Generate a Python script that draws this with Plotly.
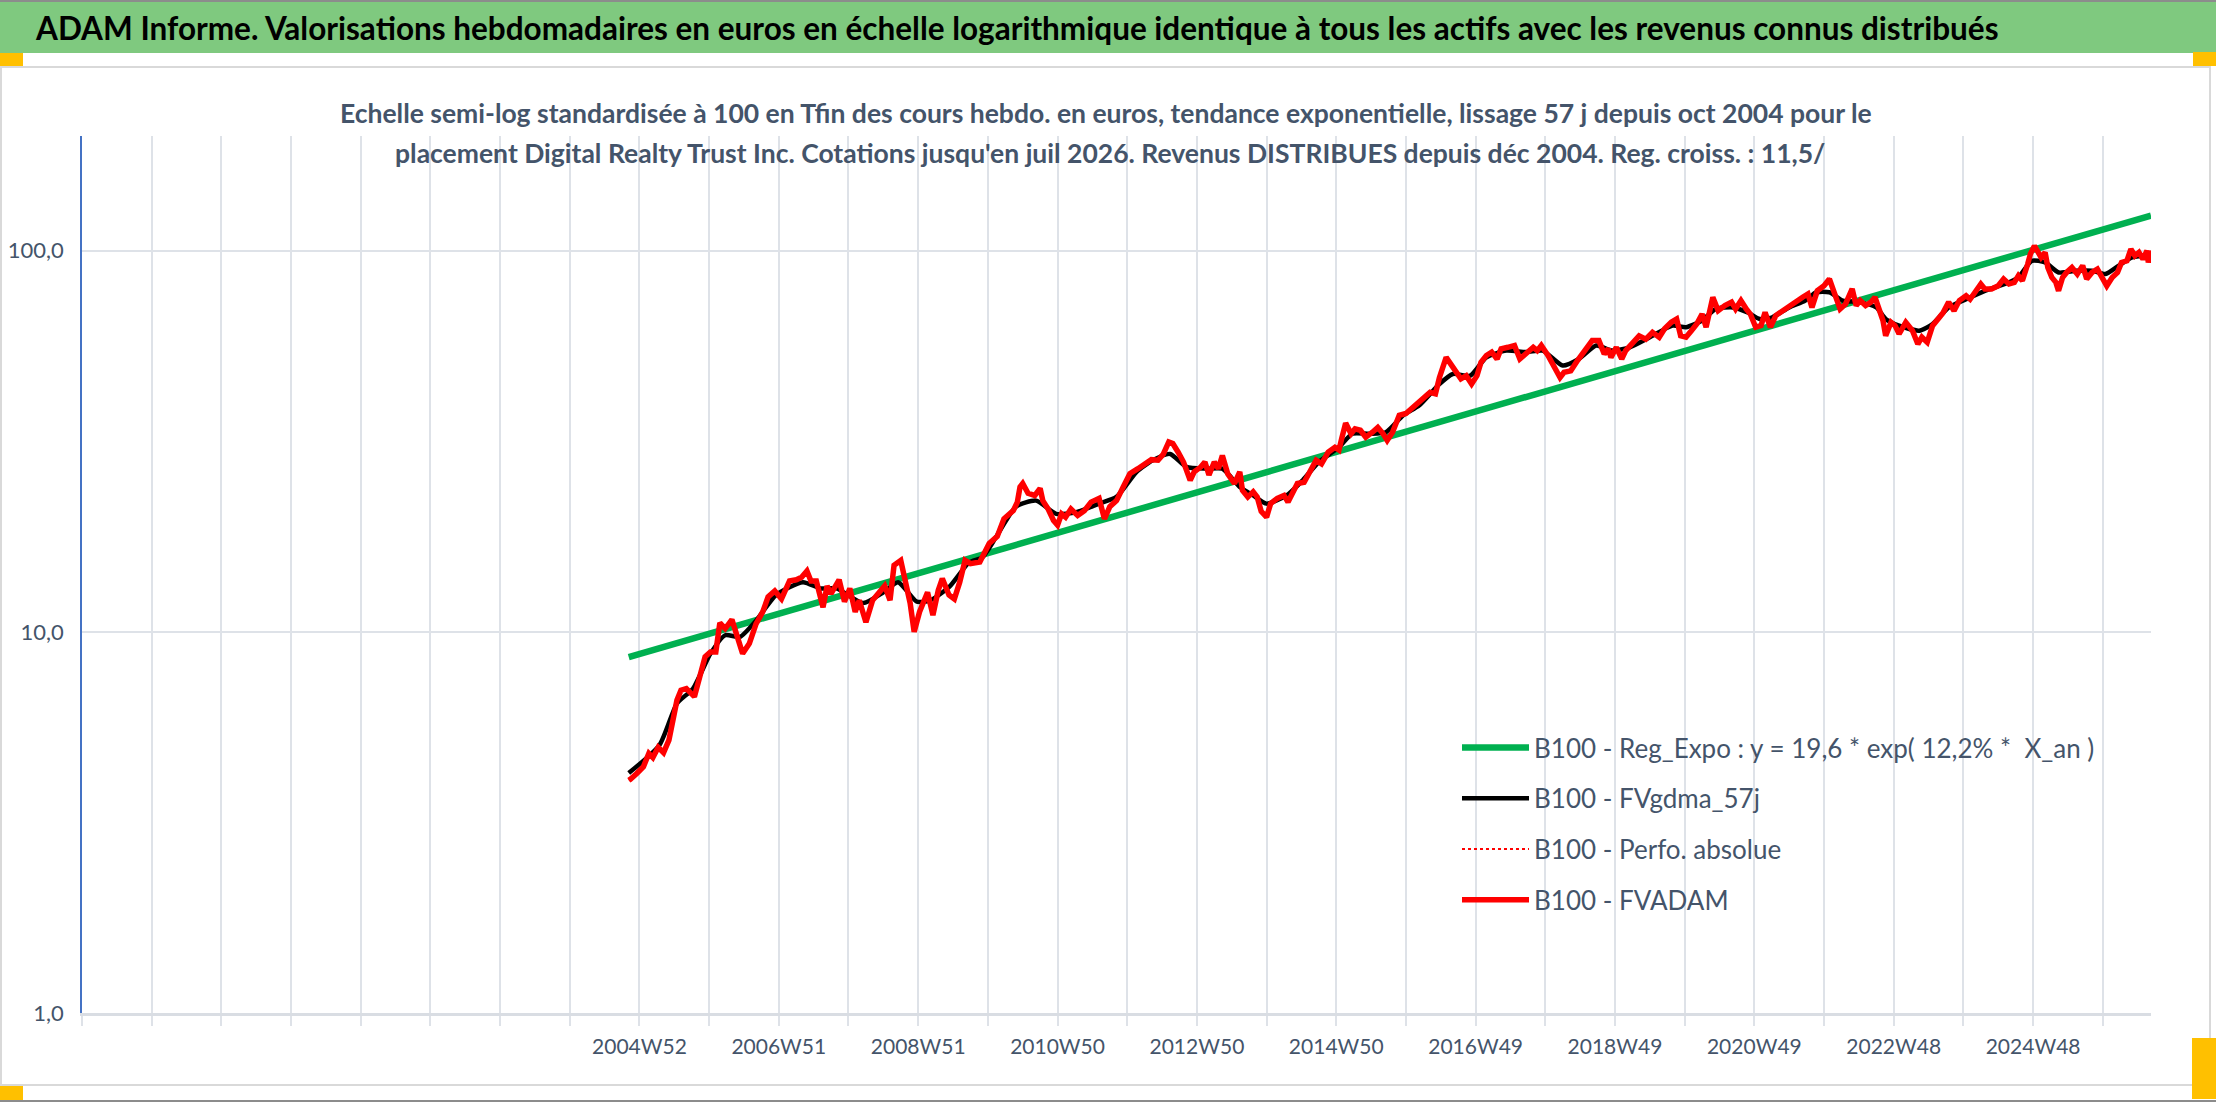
import math
import plotly.graph_objects as go

# ---------------- data ----------------
# x = week index, 0 = 2004W52 ; one category per week
fvadam_weeks = [-8, -7, -2, 3, 7, 10, 14, 18, 22, 25, 28, 31, 35, 41, 45, 49, 53, 57, 60, 64, 69, 74, 77, 82, 87,
                92, 96, 101, 106, 112, 117, 121, 125, 128, 132, 137, 140, 143, 149, 153, 157, 161, 164, 169, 174,
                179, 183, 187, 190, 195, 199, 202, 205, 209, 215, 219, 223, 226, 231, 235, 239, 243, 247, 254, 261,
                267, 272, 279, 282,
                284, 286, 290, 295, 299, 301, 305, 309, 312, 315, 318, 322, 327, 332, 337, 343, 347, 351, 356, 361,
                366, 372, 377, 382, 387, 391, 395, 398, 402, 406, 411, 414, 419, 422, 425, 429, 432, 435, 439, 444,
                448, 450, 454, 458, 461, 464, 468, 471, 476, 481, 484, 487, 491, 496, 501, 505, 509, 514, 519, 522,
                524, 527, 531, 534, 538, 542, 547, 551, 555, 558, 562, 567, 572, 576, 581,
                586, 590, 594, 597, 602, 606, 610, 613, 617, 621, 625, 628, 632, 636, 640, 643, 648, 653, 657, 662,
                667, 670, 673, 678, 683, 687, 690, 695, 700, 706, 711, 716, 720, 723, 725, 729, 733, 736, 741, 746,
                751, 756, 761, 765, 770, 774, 777, 781, 785, 789, 793, 796, 801, 805, 810, 815, 818, 822, 826, 829,
                833, 837, 840, 844, 848, 853, 858, 863, 868, 872, 875, 879,
                884, 888, 892, 896, 900, 905, 908, 911, 915, 919, 922, 925, 928, 930, 934, 937, 940, 945, 950, 954,
                957, 961, 965, 970, 973, 977, 981, 985, 990, 993, 997, 1001, 1004, 1009, 1014, 1018, 1022, 1026,
                1029, 1032, 1036, 1038, 1041, 1043, 1046, 1049, 1051, 1054, 1057, 1059, 1062, 1065, 1069, 1073,
                1077, 1080, 1084, 1088, 1091, 1095, 1099, 1103, 1106, 1110, 1113, 1116, 1119, 1122, 1125, 1126, 1128]
fvadam_values = [4.08, 4.10, 4.25, 4.43, 4.80, 4.68, 4.98, 4.82, 5.20, 5.87, 6.62, 7.03, 7.10, 6.76, 7.62, 8.60, 8.86,
                 8.86, 10.56, 10.2, 10.77, 9.32, 8.77, 9.32, 10.5, 11.28, 12.35, 12.8, 12.2, 13.6, 13.7, 13.9, 14.45,
                 13.6, 13.6, 11.6, 13.2, 12.6, 13.7, 12.0, 13.0, 11.28, 12.1, 10.6, 12.1, 12.7, 13.2, 12.1, 14.95,
                 15.4, 13.1, 11.9, 10.0, 11.28, 12.7, 11.06, 12.86, 13.8, 12.5, 12.2, 13.5, 15.4, 15.1, 15.25, 17.05,
                 17.8, 19.8, 20.8, 21.9,
                 24.0, 24.5, 23.1, 22.8, 23.8, 22.1, 21.0, 19.6, 19.05, 20.4, 20.0, 21.0, 20.2, 20.8, 21.9, 22.4,
                 19.8, 21.3, 22.1, 24.0, 26.0, 26.8, 27.6, 28.3, 28.2, 29.3, 31.5, 31.2, 29.6, 27.9, 25.0, 26.3,
                 27.1, 27.9, 25.8, 27.9, 26.8, 29.0, 26.0, 24.5, 26.3, 23.5, 22.6, 23.3, 22.6, 20.7, 20.0, 21.7,
                 22.4, 22.8, 21.9, 23.1, 24.5, 24.7, 26.8, 28.2, 27.6, 29.6, 30.5, 30.0, 32.1, 35.3, 33.1, 34.1,
                 33.8, 32.4, 33.4, 34.4, 33.1, 31.8, 33.4, 37.0, 37.4, 38.5, 39.7,
                 41.3, 42.5, 42.1, 46.5, 52.5, 50.0, 47.5, 46.1, 47.0, 44.7, 47.0, 51.0, 53.1, 54.2, 52.0, 55.3,
                 55.8, 56.4, 52.0, 53.6, 55.8, 54.7, 56.4, 53.1, 49.5, 46.5, 48.0, 48.4, 51.5, 54.7, 58.1, 58.1,
                 53.6, 55.3, 52.5, 55.8, 52.0, 54.7, 56.9, 59.8, 58.6, 61.1, 59.3, 62.4, 64.9, 66.2, 59.8, 59.3,
                 61.7, 64.2, 68.2, 63.0, 75.5, 69.6, 71.8, 73.3, 70.3, 74.0, 70.3, 68.2, 63.0, 63.6, 68.9, 63.0,
                 67.6, 69.6, 71.8, 74.0, 75.5, 77.0, 71.0, 78.5,
                 80.9, 84.3, 77.8, 70.3, 72.4, 79.4, 71.8, 74.0, 71.8, 73.3, 75.5, 69.6, 65.6, 59.8, 64.9, 63.6,
                 60.5, 64.9, 61.7, 56.9, 59.3, 57.5, 63.6, 66.8, 68.9, 73.3, 69.6, 74.0, 76.2, 74.6, 77.8, 81.8,
                 79.4, 79.4, 80.9, 84.3, 81.8, 82.6, 86.0, 83.4, 92.3, 98.0, 103.0, 100.0, 96.1, 99.0, 90.4, 85.1,
                 82.6, 78.5, 85.1, 87.7, 90.4, 86.9, 91.4, 84.3, 87.7, 89.5, 86.0, 80.9, 85.1, 87.7, 93.2, 94.1,
                 101.0, 97.0, 99.0, 95.1, 100.0, 93.2, 100.0]

gdma_weeks = [-8, 15, 28, 40, 53, 64, 75, 87, 102, 122, 135, 147, 167, 182, 193, 207, 217, 231, 246, 256, 266, 281,
              296, 311, 326, 343, 356, 371, 383, 396, 408, 423, 435, 448, 458, 468, 483, 495, 507, 522, 532, 545,
              557, 570, 582, 597, 607, 620, 632, 647, 662, 674, 689, 701, 714, 726, 739, 754, 771, 781, 793, 803,
              816, 827, 836, 845, 858, 870, 878, 888, 898, 910, 923, 930, 940, 955, 965, 977, 990, 1004, 1019,
              1029, 1039, 1049, 1059, 1072, 1084, 1094, 1104, 1114, 1128]
gdma_values = [4.26, 5.05, 6.49, 7.10, 8.77, 9.80, 9.70, 10.7, 12.5, 13.5, 13.0, 13.0, 11.9, 12.7, 13.5, 12.0, 12.1,
               13.1, 15.2, 15.7, 17.7, 21.3, 22.1, 20.4, 20.6, 21.7, 22.6, 26.3, 28.2, 29.3, 27.1, 26.8, 26.8,
               24.0, 22.8, 21.7, 22.8, 25.0, 27.9, 30.5, 33.1, 33.1, 33.4, 37.0, 39.3, 44.7, 47.5, 47.0, 52.5,
               54.7, 54.2, 54.7, 50.0, 52.0, 56.4, 54.7, 55.8, 59.3, 63.6, 63.0, 65.6, 70.3, 71.0, 68.9, 66.2,
               66.8, 71.0, 74.0, 77.8, 77.8, 74.0, 73.3, 71.0, 66.2, 63.6, 61.7, 64.2, 71.0, 74.6, 78.5, 81.8,
               85.1, 94.1, 93.2, 87.7, 88.6, 88.6, 86.9, 91.4, 96.1, 97.0]

reg_weeks = [-8, 1128]
reg_values = [8.58, 123.6]

tick_labels = ["2004W52", "2006W51", "2008W51", "2010W50", "2012W50", "2014W50",
               "2016W49", "2018W49", "2020W49", "2022W48", "2024W48"]
y_tick_values = [1, 10, 100]
y_tick_labels = ["1,0", "10,0", "100,0"]

names = ["B100 - Reg_Expo : y = 19,6 * exp( 12,2% *  X_an )",
         "B100 - FVgdma_57j",
         "B100 - Perfo. absolue",
         "B100 - FVADAM"]

banner_title = ("ADAM Informe. Valorisations hebdomadaires en euros en échelle logarithmique identique "
                "à tous les actifs avec les revenus connus distribués")
sub_line1 = ("Echelle semi-log standardisée à 100 en Tfin des cours hebdo. en euros, tendance exponentielle, "
             "lissage 57 j depuis oct 2004 pour le")
sub_line2 = ("placement Digital Realty Trust Inc. Cotations jusqu'en juil 2026. Revenus DISTRIBUES depuis "
             "déc 2004. Reg. croiss. : 11,5/")

# ---------------- layout geometry ----------------
FIG_W, FIG_H = 2216, 1102
ML, MR, MT, MB = 82, 65, 136, 89
PW = FIG_W - ML - MR
PH = FIG_H - MT - MB


def px(x):
    return (x - ML) / PW


def py(y):
    return (FIG_H - MB - y) / PH


FONT = "Lato, Liberation Sans, sans-serif"
TXT = "#44546A"
GRID = "#DEE2E8"

fig = go.Figure()
fig.add_trace(go.Scatter(x=reg_weeks, y=reg_values, mode="lines", name=names[0], legendgroup="g1",
                         line=dict(color="#00B050", width=6.5)))
fig.add_trace(go.Scatter(x=gdma_weeks, y=gdma_values, mode="lines", name=names[1], legendgroup="g2",
                         line=dict(color="#000000", width=4.5, shape="spline", smoothing=0.6)))
fig.add_trace(go.Scatter(x=fvadam_weeks, y=fvadam_values, mode="lines", name=names[2], legendgroup="g3",
                         line=dict(color="#FF0000", width=1.8, dash="dot")))
fig.add_trace(go.Scatter(x=fvadam_weeks, y=fvadam_values, mode="lines", name=names[3], legendgroup="g4",
                         line=dict(color="#FF0000", width=5.5)))

shapes = []


def rect(x0, y0, x1, y1, fill=None, line=None, lw=0):
    shapes.append(dict(type="rect", xref="paper", yref="paper", layer="below",
                       x0=px(x0), x1=px(x1), y0=py(y1), y1=py(y0),
                       fillcolor=fill if fill else "rgba(0,0,0,0)",
                       line=dict(color=line if line else "rgba(0,0,0,0)", width=lw)))


rect(0, 0, FIG_W, 2, fill="#8C8C8C")
rect(0, 2, FIG_W, 53, fill="#7FC97F")
rect(1, 67, 2210, 1085, line="#D9D9D9", lw=2)
rect(0, 1100, FIG_W, FIG_H, fill="#8C8C8C")
rect(0, 53, 23, 66, fill="#FFC000")
rect(2193, 52, FIG_W, 66, fill="#FFC000")
rect(0, 1086, 23, 1100, fill="#FFC000")
rect(2192, 1038, FIG_W, 1099, fill="#FFC000")

annotations = [
    dict(text="<b>" + banner_title + "</b>", xref="paper", yref="paper", x=px(33), y=py(28),
         xanchor="left", yanchor="middle", showarrow=False, font=dict(family=FONT, size=31.5, color="#000000")),
    dict(text="<b>" + sub_line1 + "</b>", xref="paper", yref="paper", x=px(1106), y=py(113),
         xanchor="center", yanchor="middle", showarrow=False, font=dict(family=FONT, size=26.5, color=TXT)),
    dict(text="<b>" + sub_line2 + "</b>", xref="paper", yref="paper", x=px(1110), y=py(153),
         xanchor="center", yanchor="middle", showarrow=False, font=dict(family=FONT, size=26.5, color=TXT)),
]

fig.update_layout(
    width=FIG_W, height=FIG_H,
    margin=dict(l=ML, r=MR, t=MT, b=MB, pad=0, autoexpand=False),
    paper_bgcolor="#FFFFFF", plot_bgcolor="#FFFFFF",
    font=dict(family=FONT, color=TXT),
    showlegend=True,
    legend=dict(x=px(1457), y=py(724), xanchor="left", yanchor="top",
                bgcolor="rgba(0,0,0,0)", borderwidth=0,
                font=dict(family=FONT, size=26, color=TXT),
                itemwidth=67, tracegroupgap=14, traceorder="grouped"),
    shapes=shapes,
    annotations=annotations,
    hovermode=False,
    xaxis=dict(range=[-416, 1128], tickmode="array", automargin=False,
               tickvals=[i * 104 for i in range(len(tick_labels))], ticktext=tick_labels,
               showgrid=True, gridcolor=GRID, gridwidth=1.5,
               ticks="outside", ticklen=10, tickcolor=GRID, tickwidth=1.5,
               showline=True, linecolor="#D9DDE3", linewidth=2.5, zeroline=False,
               tickfont=dict(family=FONT, size=21, color=TXT), ticklabelstandoff=3,
               minor=dict(tickmode="linear", tick0=-416, dtick=52, showgrid=True, gridcolor=GRID,
                          gridwidth=1.5, ticks="outside", ticklen=10, tickcolor=GRID, tickwidth=1.5)),
    yaxis=dict(type="log", range=[0, math.log10(200)], tickmode="array", automargin=False,
               tickvals=y_tick_values, ticktext=y_tick_labels,
               showgrid=True, gridcolor=GRID, gridwidth=2,
               showline=True, linecolor="#4472C4", linewidth=1.5, ticks="", zeroline=False,
               tickfont=dict(family=FONT, size=22, color=TXT), ticklabelstandoff=12),
)

fig.write_html("out.html", config={"displayModeBar": False},
               post_script="document.body.style.margin='0';document.body.style.overflow='hidden';")
